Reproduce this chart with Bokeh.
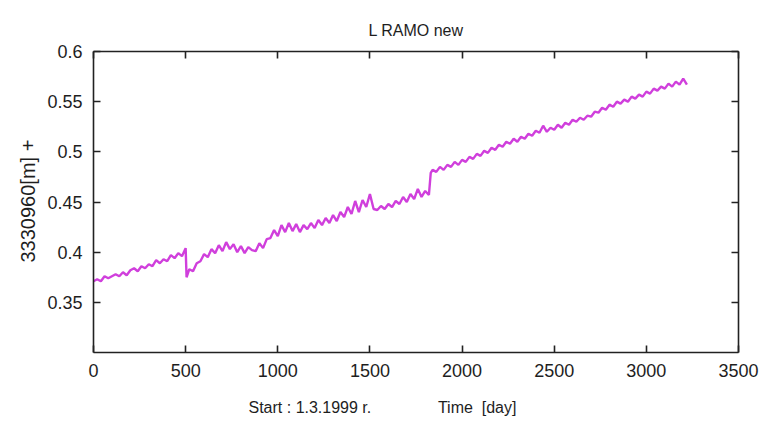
from bokeh.plotting import figure
from bokeh.models import FixedTicker, LinearAxis, Range1d, Title
from bokeh.embed import file_html
from bokeh.resources import INLINE

# ---- data ----
days_a = list(range(0, 501, 20))
vals_a = [0.371, 0.373, 0.371, 0.376, 0.374, 0.376, 0.378, 0.376, 0.380, 0.377,
          0.382, 0.384, 0.381, 0.386, 0.384, 0.388, 0.386, 0.392, 0.389, 0.393,
          0.391, 0.397, 0.394, 0.399, 0.396, 0.404]
days_b = [505] + list(range(520, 1821, 20)) + [1830]
vals_b = [0.375,
          0.383, 0.381, 0.389, 0.391, 0.398, 0.395, 0.403, 0.399, 0.407, 0.401,
          0.410, 0.403, 0.408, 0.400, 0.406, 0.399, 0.405, 0.402, 0.401, 0.409,
          0.404, 0.413, 0.414, 0.422, 0.416, 0.427, 0.420, 0.429, 0.421, 0.428,
          0.420, 0.427, 0.423, 0.429, 0.424, 0.432, 0.427, 0.434, 0.429, 0.437,
          0.431, 0.440, 0.435, 0.445, 0.438, 0.451, 0.440, 0.452, 0.445, 0.458,
          0.443, 0.442, 0.446, 0.443, 0.448, 0.445, 0.451, 0.448, 0.455, 0.450,
          0.458, 0.453, 0.463, 0.455, 0.461, 0.457,
          0.479]
days_c = list(range(1840, 3221, 20))
vals_c = [0.482, 0.480, 0.485, 0.482, 0.487, 0.485, 0.490, 0.487, 0.492, 0.490,
          0.495, 0.493, 0.498, 0.496, 0.501, 0.499, 0.504, 0.502, 0.507, 0.505,
          0.510, 0.508, 0.513, 0.510, 0.515, 0.513, 0.518, 0.516, 0.521, 0.519,
          0.526, 0.520, 0.524, 0.522, 0.527, 0.524, 0.529, 0.527, 0.532, 0.530,
          0.534, 0.532, 0.536, 0.535, 0.540, 0.539, 0.544, 0.542, 0.547, 0.545,
          0.550, 0.548, 0.552, 0.550, 0.555, 0.553, 0.557, 0.555, 0.560, 0.558,
          0.563, 0.561, 0.565, 0.563, 0.568, 0.565, 0.570, 0.567, 0.573, 0.567]

days = days_a + days_b + days_c
vals = vals_a + vals_b + vals_c

x_ticks = [0, 500, 1000, 1500, 2000, 2500, 3000, 3500]
y_ticks = [0.35, 0.4, 0.45, 0.5, 0.55, 0.6]
y_tick_labels = {0.35: "0.35", 0.4: "0.4", 0.45: "0.45", 0.5: "0.5", 0.55: "0.55", 0.6: "0.6"}

NB = "\u00a0"
title_text = "L RAMO new"
x_label_text = "Start : 1.3.1999 r." + NB * 15 + "Time" + NB * 2 + "[day]"
y_label_text = "3330960[m] +"

FONT = "Liberation Sans"
AX = "#222222"
TXT = "#1e1e1e"

p = figure(width=760, height=433, output_backend="svg", toolbar_location=None,
           x_range=Range1d(0, 3500), y_range=Range1d(0.3, 0.6),
           x_axis_location=None, y_axis_location=None,
           min_border_left=93, min_border_right=22, min_border_top=51, min_border_bottom=81)
p.grid.visible = False
p.outline_line_color = None
p.background_fill_color = "white"
p.border_fill_color = "white"

p.line(days, vals, line_color="#d03fdc", line_width=2.4)

def style(ax, labels=True):
    ax.axis_line_color = AX
    ax.axis_line_width = 1.6
    ax.major_tick_line_color = AX
    ax.major_tick_line_width = 1.6
    ax.major_tick_in = 7
    ax.major_tick_out = 0
    ax.minor_tick_line_color = None
    ax.major_label_text_font = FONT
    ax.major_label_text_font_size = "18px"
    ax.major_label_text_color = TXT
    ax.major_label_standoff = 11
    if not labels:
        ax.major_label_text_color = None
        ax.major_label_standoff = 0

xb = LinearAxis(ticker=FixedTicker(ticks=x_ticks))
style(xb)
p.add_layout(xb, "below")
yl = LinearAxis(ticker=FixedTicker(ticks=y_ticks), major_label_overrides=y_tick_labels)
style(yl)
p.add_layout(yl, "left")
xt = LinearAxis(ticker=FixedTicker(ticks=x_ticks), major_label_overrides={t: "" for t in x_ticks})
style(xt, labels=False)
p.add_layout(xt, "above")
yr = LinearAxis(ticker=FixedTicker(ticks=y_ticks), major_label_overrides={t: "" for t in y_ticks})
style(yr, labels=False)
p.add_layout(yr, "right")

p.title.text = title_text
p.title.align = "center"
p.title.vertical_align = "top"
p.title.text_font = FONT
p.title.text_font_size = "16px"
p.title.text_font_style = "normal"
p.title.text_color = TXT
p.title.standoff = 22

p.add_layout(Title(text=x_label_text, align="left", offset=155, text_font=FONT,
                   text_font_size="16px", text_font_style="normal", text_color=TXT,
                   standoff=34), "below")
p.add_layout(Title(text=y_label_text, align="left", offset=90, text_font=FONT,
                   text_font_size="20px", text_font_style="normal", text_color=TXT,
                   standoff=12), "left")

open("out.html", "w").write(file_html(p, INLINE))
